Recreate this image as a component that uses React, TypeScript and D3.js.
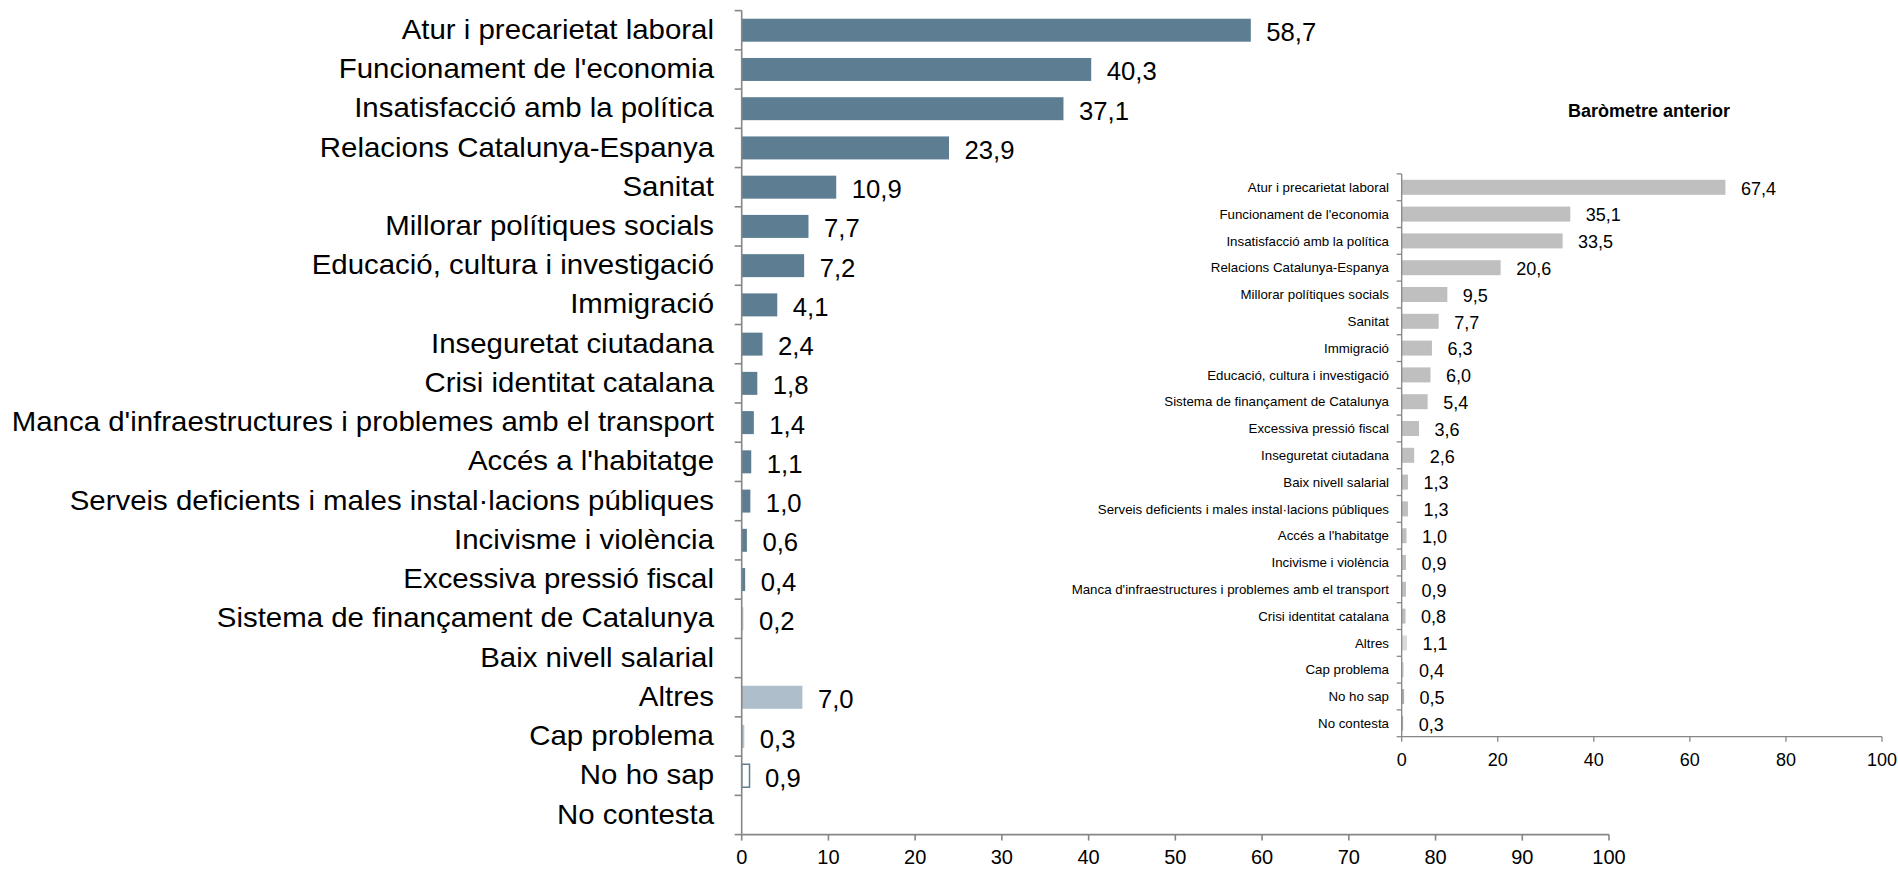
import React from "react";
import * as d3 from "d3";

const mainCategories = [
  "Atur i precarietat laboral",
  "Funcionament de l'economia",
  "Insatisfacció amb la política",
  "Relacions Catalunya-Espanya",
  "Sanitat",
  "Millorar polítiques socials",
  "Educació, cultura i investigació",
  "Immigració",
  "Inseguretat ciutadana",
  "Crisi identitat catalana",
  "Manca d'infraestructures i problemes amb el transport",
  "Accés a l'habitatge",
  "Serveis deficients i males instal·lacions públiques",
  "Incivisme i violència",
  "Excessiva pressió fiscal",
  "Sistema de finançament de Catalunya",
  "Baix nivell salarial",
  "Altres",
  "Cap problema",
  "No ho sap",
  "No contesta",
];
const mainValues: (number | null)[] = [
  58.7, 40.3, 37.1, 23.9, 10.9, 7.7, 7.2, 4.1, 2.4, 1.8, 1.4, 1.1, 1.0, 0.6, 0.4, 0.2, null, 7.0, 0.3, 0.9, null,
];

const prevCategories = [
  "Atur i precarietat laboral",
  "Funcionament de l'economia",
  "Insatisfacció amb la política",
  "Relacions Catalunya-Espanya",
  "Millorar polítiques socials",
  "Sanitat",
  "Immigració",
  "Educació, cultura i investigació",
  "Sistema de finançament de Catalunya",
  "Excessiva pressió fiscal",
  "Inseguretat ciutadana",
  "Baix nivell salarial",
  "Serveis deficients i males instal·lacions públiques",
  "Accés a l'habitatge",
  "Incivisme i violència",
  "Manca d'infraestructures i problemes amb el transport",
  "Crisi identitat catalana",
  "Altres",
  "Cap problema",
  "No ho sap",
  "No contesta",
];
const prevValues = [
  67.4, 35.1, 33.5, 20.6, 9.5, 7.7, 6.3, 6.0, 5.4, 3.6, 2.6, 1.3, 1.3, 1.0, 0.9, 0.9, 0.8, 1.1, 0.4, 0.5, 0.3,
];

const mainTicks = [0, 10, 20, 30, 40, 50, 60, 70, 80, 90, 100];
const prevTicks = [0, 20, 40, 60, 80, 100];
const prevTitle = "Baròmetre anterior";

const FONT = "'Liberation Sans', Arial, Helvetica, sans-serif";
const AXIS = "#868686";
const fmt = (v: number) => v.toFixed(1).replace(".", ",");

function mainFill(cat: string) {
  if (cat === "Altres") return "#AEBECA";
  if (cat === "Cap problema") return "#B4C3CD";
  if (cat === "No ho sap") return "#FFFFFF";
  if (cat === "Sistema de finançament de Catalunya") return "#C3CED6";
  return "#5D7E92";
}
function prevFill(cat: string) {
  if (cat === "Altres") return "#DADADA";
  if (cat === "Cap problema") return "#CFCFCF";
  if (cat === "No ho sap" || cat === "No contesta") return "#AFAFAF";
  return "#BFBFBF";
}

export default function App() {
  const W = 1898;
  const H = 869;

  // main chart
  const x = d3.scaleLinear().domain([0, 100]).range([741.7, 1609]);
  const y = d3
    .scaleBand<string>()
    .domain(mainCategories)
    .range([10.6, 834.6])
    .paddingInner(0.414)
    .paddingOuter(0.207);
  const step = y.step();
  const yTop = 10.6;
  const yBottom = 834.6;

  // inset chart
  const px = d3.scaleLinear().domain([0, 100]).range([1401.7, 1882]);
  const py = d3
    .scaleBand<string>()
    .domain(prevCategories)
    .range([173.9, 736.7])
    .paddingInner(0.44)
    .paddingOuter(0.22);
  const pstep = py.step();
  const pTop = 173.9;
  const pBottom = 736.7;

  return (
    <div style={{ position: "absolute", left: 0, top: 0, width: W, height: H, background: "#fff" }}>
      <svg width={W} height={H} style={{ display: "block", fontFamily: FONT }}>
        <rect x={0} y={0} width={W} height={H} fill="#fff" />
        {/* MAIN CHART */}
        <g>
          {mainCategories.map((c, i) => {
            const v = mainValues[i];
            const yc = (y(c) as number) + y.bandwidth() / 2;
            return (
              <g key={"m" + i}>
                <text
                  transform={`translate(714,${yc + 8.6}) scale(1.09,1)`}
                  textAnchor="end"
                  fontSize={27}
                  fill="#000"
                >
                  {c}
                </text>
                {v !== null && (
                  <>
                    <rect
                      x={x(0)}
                      y={y(c)}
                      width={Math.max(0.8, x(v) - x(0))}
                      height={y.bandwidth()}
                      fill={mainFill(c)}
                      stroke={c === "No ho sap" ? "#5D7E92" : "none"}
                      strokeWidth={c === "No ho sap" ? 1.5 : 0}
                    />
                    <text x={x(v) + 15.5} y={yc + 11} fontSize={25.7} fill="#000">
                      {fmt(v)}
                    </text>
                  </>
                )}
              </g>
            );
          })}
          {/* y axis */}
          <line x1={x(0)} x2={x(0)} y1={yTop} y2={yBottom} stroke={AXIS} strokeWidth={1.6} />
          {d3.range(mainCategories.length + 1).map((i) => (
            <line key={"myt" + i} x1={x(0) - 7} x2={x(0)} y1={yTop + i * step} y2={yTop + i * step} stroke={AXIS} strokeWidth={1.6} />
          ))}
          {/* x axis */}
          <line x1={x(0)} x2={x(100)} y1={yBottom} y2={yBottom} stroke={AXIS} strokeWidth={1.6} />
          {mainTicks.map((t) => (
            <g key={"mxt" + t}>
              <line x1={x(t)} x2={x(t)} y1={yBottom} y2={yBottom + 6} stroke={AXIS} strokeWidth={1.6} />
              <text x={x(t)} y={864} textAnchor="middle" fontSize={20} fill="#000">
                {t}
              </text>
            </g>
          ))}
        </g>

        {/* INSET CHART */}
        <g>
          <text x={1649} y={111} dy="0.35em" textAnchor="middle" fontSize={18} fontWeight="bold" fill="#000">
            {prevTitle}
          </text>
          {prevCategories.map((c, i) => {
            const v = prevValues[i];
            const yc = (py(c) as number) + py.bandwidth() / 2;
            return (
              <g key={"p" + i}>
                <text x={1389} y={yc} dy="0.35em" textAnchor="end" fontSize={13.3} fill="#000">
                  {c}
                </text>
                <rect x={px(0)} y={py(c)} width={px(v) - px(0)} height={py.bandwidth()} fill={prevFill(c)} />
                <text x={px(v) + 15.5} y={yc} dy="0.4em" fontSize={18} fill="#000">
                  {fmt(v)}
                </text>
              </g>
            );
          })}
          <line x1={px(0)} x2={px(0)} y1={pTop} y2={pBottom} stroke={AXIS} strokeWidth={1.3} />
          {d3.range(prevCategories.length + 1).map((i) => (
            <line key={"pyt" + i} x1={px(0) - 5} x2={px(0)} y1={pTop + i * pstep} y2={pTop + i * pstep} stroke={AXIS} strokeWidth={1.3} />
          ))}
          <line x1={px(0)} x2={px(100)} y1={pBottom} y2={pBottom} stroke={AXIS} strokeWidth={1.3} />
          {prevTicks.map((t) => (
            <g key={"pxt" + t}>
              <line x1={px(t)} x2={px(t)} y1={pBottom} y2={pBottom + 5} stroke={AXIS} strokeWidth={1.3} />
              <text x={px(t)} y={760} dy="0.35em" textAnchor="middle" fontSize={18} fill="#000">
                {t}
              </text>
            </g>
          ))}
        </g>
      </svg>
    </div>
  );
}
